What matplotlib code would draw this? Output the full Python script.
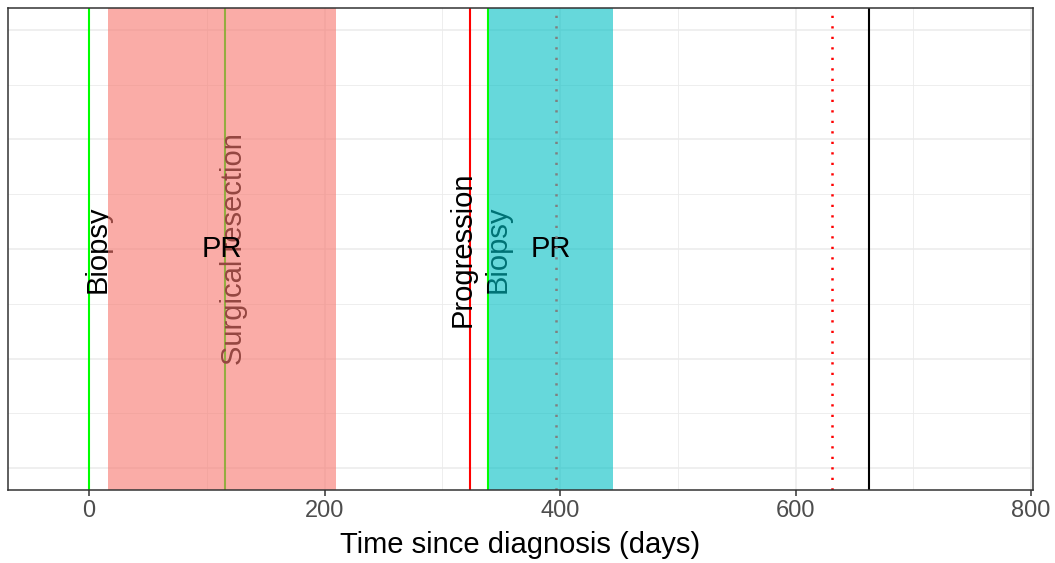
import matplotlib.pyplot as plt
from matplotlib.ticker import MultipleLocator, NullFormatter

plt.rcParams['font.family'] = ['Liberation Sans', 'DejaVu Sans']

# Eventos (dias desde el diagnostico)
event_days = [0, 115.5, 323.6, 339]
event_labels = ['Biopsy', 'Surgical resection', 'Progression', 'Biopsy']
event_colors = ['#00FF00', '#00FF00', '#FF0000', '#00FF00']

# Periodos de respuesta
resp_start = [16, 339.7]
resp_end = [210, 445]
resp_labels = ['PR', 'PR']
resp_colors = ['#F8766D', '#00BFC4']

# Lineas punteadas / final
dotted_days = [396.6, 631]
dotted_colors = ['#7F7F7F', '#FF0000']
last_day = 662.4

# desplazamiento del texto respecto a la linea (dias)
text_nudge = [7.5, 7.5, -6, 8]

fig = plt.figure(figsize=(10.55, 5.63), dpi=100)
ax = fig.add_axes([8 / 1055, 1 - 490 / 563, 1025 / 1055, 482 / 563])

ax.set_xlim(-68.8, 801.7)
ax.set_ylim(-0.05, 1.05)

ax.xaxis.set_major_locator(MultipleLocator(200))
ax.xaxis.set_minor_locator(MultipleLocator(100))
ax.yaxis.set_major_locator(MultipleLocator(0.25))
ax.yaxis.set_minor_locator(MultipleLocator(0.125))
ax.yaxis.set_major_formatter(NullFormatter())
ax.tick_params(axis='y', which='both', length=0)
ax.tick_params(axis='x', which='minor', length=0)
ax.tick_params(axis='x', which='major', length=4, width=1.1, color='#333333',
               labelsize=17, labelcolor='#4D4D4D', pad=3)

ax.grid(which='major', color='#EBEBEB', linewidth=1.1)
ax.grid(which='minor', color='#EBEBEB', linewidth=0.6)
ax.set_axisbelow(True)
for s in ax.spines.values():
    s.set_color('#333333')
    s.set_linewidth(1.1)
    s.set_zorder(10)

# lineas de evento y etiquetas (debajo de los rectangulos)
for d, lab, c, nd in zip(event_days, event_labels, event_colors, text_nudge):
    ax.axvline(d, color=c, linewidth=1.5, zorder=2)
    ax.text(d + nd, 0.5, lab, rotation=90, ha='center', va='center',
            fontsize=21, color='black', zorder=2)

# periodos de respuesta
for a, b, lab, c in zip(resp_start, resp_end, resp_labels, resp_colors):
    ax.axvspan(a, b, color=c, alpha=0.6, linewidth=0, zorder=3)
    ax.text((a + b) / 2, 0.5, lab, ha='center', va='center',
            fontsize=21, color='black', zorder=4)

for d, c in zip(dotted_days, dotted_colors):
    ax.axvline(d, color=c, linewidth=1.8, dashes=(0.9, 3.3), zorder=5)
ax.axvline(last_day, color='black', linewidth=1.5, zorder=5)

ax.set_xlabel('Time since diagnosis (days)', fontsize=21, labelpad=7)

fig.savefig('out.png', dpi=100)
